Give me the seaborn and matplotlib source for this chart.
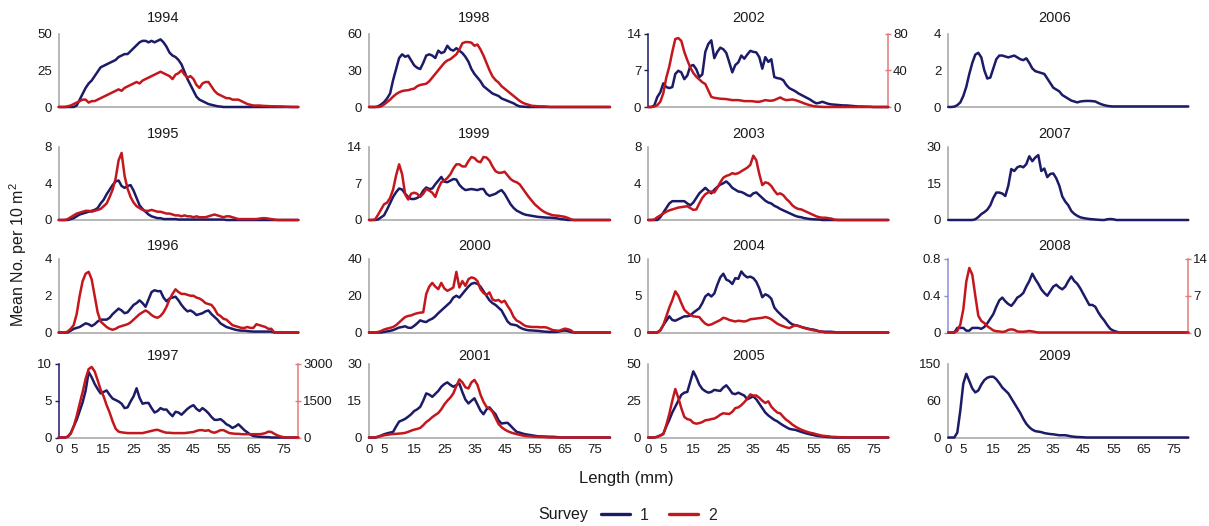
import matplotlib
matplotlib.use("Agg")
import matplotlib.pyplot as plt
import matplotlib.transforms as mtransforms
from matplotlib.lines import Line2D
import seaborn as sns

# ---------------- data ----------------
lengths = list(range(0, 81))  # mm

s1_1994 = [0, 0, 0, 0, 0, 0, 1, 5, 9, 13,
           16, 18, 21, 24, 27, 28, 29, 30, 31, 32,
           34, 35, 36, 36, 38, 40, 42, 44, 45, 45,
           44, 45, 44, 45, 46, 44, 41, 37, 35, 34,
           32, 29, 24, 19, 15, 11, 7, 5, 4, 3,
           2, 1.5, 1, 0.5, 0.3, 0, 0, 0, 0, 0,
           0, 0, 0, 0, 0, 0, 0, 0, 0, 0,
           0, 0, 0, 0, 0, 0, 0, 0, 0, 0,
           0]
s2_1994 = [0, 0, 0, 0.5, 1, 2, 3, 4, 5, 5,
           3, 4, 4, 5, 6, 7, 8, 9, 10, 11,
           12, 11, 13, 14, 15, 16, 17, 16, 18, 19,
           20, 21, 22, 23, 24, 23, 22, 21, 19, 22,
           23, 25, 22, 20, 21, 19, 15, 13, 16, 17,
           17, 14, 11, 9, 8, 7, 6, 6, 5, 5,
           5, 4, 3, 2, 1.5, 1, 1, 1, 0.8, 0.7,
           0.6, 0.5, 0.5, 0.4, 0.4, 0.3, 0.2, 0.1, 0, 0,
           0]
s1_1995 = [0, 0, 0, 0, 0.1, 0.2, 0.4, 0.6, 0.7, 0.8,
           0.9, 1.0, 1.1, 1.3, 1.8, 2.2, 2.8, 3.3, 3.8, 4.2,
           4.3, 3.7, 3.5, 3.7, 3.8, 3.2, 2.4, 1.6, 1.2, 0.9,
           0.6, 0.4, 0.3, 0.2, 0.2, 0.1, 0.1, 0.1, 0.1, 0.1,
           0.05, 0.05, 0.05, 0.05, 0.05, 0.05, 0.05, 0.05, 0.05, 0.05,
           0.05, 0.05, 0.05, 0.05, 0.05, 0.05, 0, 0, 0, 0,
           0, 0, 0, 0, 0, 0, 0, 0, 0, 0,
           0, 0, 0, 0, 0, 0, 0, 0, 0, 0,
           0]
s2_1995 = [0, 0, 0, 0.1, 0.3, 0.5, 0.7, 0.8, 0.9, 1.0,
           1.0, 0.9, 1.0, 1.1, 1.2, 1.5, 1.8, 2.5, 3.3, 4.5,
           6.5, 7.3, 4.8, 3.4, 2.5, 1.9, 1.5, 1.3, 1.1, 1.0,
           1.0, 1.1, 1.0, 0.9, 0.9, 0.8, 0.7, 0.7, 0.6, 0.5,
           0.5, 0.4, 0.5, 0.4, 0.4, 0.3, 0.4, 0.3, 0.3, 0.3,
           0.4, 0.5, 0.6, 0.5, 0.4, 0.3, 0.4, 0.4, 0.3, 0.2,
           0.1, 0.1, 0.1, 0.1, 0.1, 0.1, 0.1, 0.15, 0.2, 0.2,
           0.15, 0.1, 0.05, 0, 0, 0, 0, 0, 0, 0,
           0]
s1_1996 = [0, 0, 0, 0, 0.1, 0.2, 0.25, 0.3, 0.4, 0.5,
           0.45, 0.35, 0.45, 0.6, 0.7, 0.7, 0.7, 0.8, 1.0, 1.15,
           1.3, 1.2, 1.05, 1.1, 1.3, 1.5, 1.6, 1.75, 1.6, 1.4,
           1.8, 2.2, 2.3, 2.25, 2.25, 1.9, 1.7, 1.85, 1.9, 1.95,
           1.75, 1.5, 1.3, 1.15, 1.2, 1.1, 0.95, 1.0, 1.05, 1.15,
           1.2, 1.0, 0.85, 0.7, 0.5, 0.4, 0.3, 0.25, 0.2, 0.15,
           0.12, 0.1, 0.1, 0.08, 0.06, 0.05, 0.05, 0.05, 0.05, 0.05,
           0.05, 0.05, 0, 0, 0, 0, 0, 0, 0, 0,
           0]
s2_1996 = [0, 0, 0, 0.05, 0.2, 0.4, 1.0, 2.0, 2.8, 3.2,
           3.3, 2.9, 2.0, 1.1, 0.6, 0.45, 0.3, 0.2, 0.15, 0.2,
           0.3, 0.35, 0.4, 0.45, 0.55, 0.7, 0.85, 1.0, 1.1, 1.2,
           1.1, 0.95, 0.85, 0.8, 0.9, 1.1, 1.4, 1.8, 2.1, 2.35,
           2.2, 2.1, 2.1, 2.05, 2.0, 2.0, 1.9, 1.85, 1.75, 1.6,
           1.55, 1.5, 1.3, 1.0, 0.9, 0.75, 0.7, 0.55, 0.4, 0.35,
           0.3, 0.25, 0.25, 0.3, 0.25, 0.25, 0.45, 0.4, 0.35, 0.3,
           0.2, 0.2, 0, 0, 0, 0, 0, 0, 0, 0,
           0]
s1_1997 = [0, 0, 0, 0.1, 0.6, 1.5, 2.4, 3.6, 4.8, 6.4,
           8.9, 8.2, 7.3, 6.6, 6.0, 6.2, 6.4, 5.8, 5.3, 5.1,
           4.9, 4.6, 4.0, 4.1, 4.9, 5.6, 6.7, 5.4, 4.6, 4.7,
           4.7, 4.0, 3.4, 3.6, 4.0, 3.8, 3.8, 3.3, 2.9, 3.5,
           3.4, 3.1, 3.5, 3.9, 4.2, 4.4, 3.9, 3.6, 4.0, 3.7,
           3.3, 2.8, 2.4, 2.4, 2.5, 2.2, 1.8, 1.6, 1.3, 1.5,
           1.8, 1.4, 1.0, 0.7, 0.4, 0.2, 0.15, 0.1, 0.08, 0.05,
           0.05, 0, 0, 0, 0, 0, 0, 0, 0, 0,
           0]
s2_1997 = [0, 0, 0, 30, 150, 450, 870, 1380, 1860, 2400,
           2790, 2880, 2700, 2340, 1950, 1680, 1320, 1020, 660, 360,
           240, 210, 195, 180, 180, 180, 180, 180, 180, 210,
           240, 270, 300, 315, 270, 225, 195, 195, 180, 180,
           180, 180, 180, 195, 210, 225, 270, 300, 300, 270,
           300, 225, 195, 240, 300, 300, 240, 180, 165, 150,
           150, 135, 135, 135, 135, 135, 135, 135, 150, 180,
           240, 225, 150, 90, 45, 15, 0, 0, 0, 0,
           0]
s1_1998 = [0, 0, 0, 0.5, 2, 4, 7, 11, 22, 31,
           40, 43, 41, 42, 38, 34, 32, 31, 36, 42,
           43, 42, 40, 46, 44, 45, 50, 47, 46, 48,
           46, 44, 41, 37, 31, 27, 24, 21, 17, 15,
           13, 11, 10, 9, 7, 6, 5, 4, 3, 1.5,
           0.5, 0.3, 0.1, 0, 0, 0, 0, 0, 0, 0,
           0, 0, 0, 0, 0, 0, 0, 0, 0, 0,
           0, 0, 0, 0, 0, 0, 0, 0, 0, 0,
           0]
s2_1998 = [0, 0, 0, 0, 0.5, 2, 4, 6, 8.5, 10.5,
           12, 13, 13.5, 13.7, 14.5, 15, 17, 18, 18.5, 19,
           21, 24, 27, 30, 33, 36, 38, 39, 41, 43,
           47, 52, 53, 53, 52.5, 50, 51, 47, 42, 36,
           30, 25, 22, 20, 17, 15, 13, 11, 9, 7,
           5, 3.5, 2.5, 1.8, 1, 0.8, 0.6, 0.5, 0.5, 0.3,
           0, 0, 0, 0, 0, 0, 0, 0, 0, 0,
           0, 0, 0, 0, 0, 0, 0, 0, 0, 0,
           0]
s1_1999 = [0, 0, 0, 0.1, 0.5, 0.9, 2, 3.2, 4.4, 5.3,
           6, 5.8, 5, 4.4, 4, 4, 4.2, 4.6, 5.6, 6.2,
           5.9, 6, 6.8, 7.5, 8.2, 7.3, 7.2, 7.5, 7.8, 7.7,
           6.7, 6.1, 5.7, 5.8, 5.9, 5.8, 5.7, 5.9, 5.9, 5,
           4.6, 4.8, 5, 5.4, 5.7, 5, 4, 3, 2.3, 1.8,
           1.5, 1.2, 1.0, 0.9, 0.8, 0.7, 0.6, 0.55, 0.5, 0.45,
           0.45, 0.4, 0.35, 0.25, 0.15, 0.1, 0, 0, 0, 0,
           0, 0, 0, 0, 0, 0, 0, 0, 0, 0,
           0]
s2_1999 = [0, 0, 0.1, 1, 2, 3, 3.3, 4.2, 5.8, 8.5,
           10.6, 8.7, 4.9, 3.9, 5.0, 5.2, 5.0, 4.4, 5.0, 5.9,
           5.6, 5.2, 4.4, 6, 7.2, 7.5, 8, 8.7, 9.8, 10.6,
           10.6, 10.2, 10.2, 11.2, 12, 11.8, 11.2, 11, 12, 11.9,
           11.3, 10.2, 9.3, 9, 9, 9.2, 8.5, 7.8, 7.4, 7.2,
           6.8, 6, 5.2, 4.4, 3.7, 3.0, 2.5, 2.0, 1.6, 1.3,
           1.1, 0.9, 0.85, 0.8, 0.7, 0.6, 0.4, 0.15, 0, 0,
           0, 0, 0, 0, 0, 0, 0, 0, 0, 0,
           0]
s1_2000 = [0, 0, 0, 0, 0, 0.3, 0.6, 0.9, 1.3, 2,
           2.7, 3, 3.4, 2.6, 2.5, 3.6, 5, 6.6, 6, 5.7,
           6.8, 7.5, 8.8, 10.5, 12, 13.5, 15, 16.5, 19, 20,
           19, 21, 23, 25, 26.5, 27, 26.5, 25, 22.5, 20,
           17.5, 16, 15, 13.5, 12, 9, 6, 4.5, 4.2, 3.9,
           2.8, 2, 1.5, 1.2, 1.1, 1, 0.9, 0.7, 0.5, 0.4,
           0.3, 0.3, 0.3, 0.5, 0.9, 1.1, 0.8, 0.3, 0, 0,
           0, 0, 0, 0, 0, 0, 0, 0, 0, 0,
           0]
s2_2000 = [0, 0, 0, 0.3, 0.8, 1.6, 2.1, 2.5, 3, 4,
           5.5, 7, 8.4, 9, 9.3, 10, 10.5, 10.8, 11, 21,
           25, 27, 25, 23.6, 27, 24, 22.7, 23.5, 24.5, 33,
           24.5, 28, 25.4, 29, 30, 29.5, 28, 23.6, 21.5, 20.5,
           21.8, 18, 17.3, 17.7, 16.4, 17.3, 14.5, 12, 8.5, 6.5,
           5.7, 4.5, 3.5, 3.2, 3, 3, 3, 2.8, 2.9, 2.7,
           2, 1.3, 1.1, 0.9, 1.5, 2.1, 1.8, 1.2, 0, 0,
           0, 0, 0, 0, 0, 0, 0, 0, 0, 0,
           0]
s1_2001 = [0, 0, 0, 0.3, 0.8, 1.3, 1.7, 2, 2.3, 4.5,
           6.5, 7, 7.6, 8.5, 9.5, 10.8, 11.5, 12.5, 15, 18,
           17.5, 16.6, 17.8, 19, 20.7, 21.8, 22.5, 21.5, 20.7, 21.4,
           22, 18.5, 15.5, 13.9, 15, 16, 13.5, 11, 9.5, 11.5,
           12.3, 10.8, 9.5, 7, 5.7, 5.9, 6, 4.8, 3.5, 2.3,
           2, 1.6, 1.3, 1.1, 0.9, 0.7, 0.5, 0.45, 0.4, 0.35,
           0.3, 0.3, 0.2, 0.1, 0, 0, 0, 0, 0, 0,
           0, 0, 0, 0, 0, 0, 0, 0, 0, 0,
           0]
s2_2001 = [0, 0, 0, 0.3, 0.6, 0.9, 1.1, 1.3, 1.4, 1.5,
           1.6, 1.7, 1.9, 2.3, 2.8, 3.2, 3.5, 3.9, 5, 6.3,
           7.2, 8.3, 9.2, 10, 11.5, 13.5, 15, 16.3, 18, 21,
           23.7, 22.5, 20.5, 20, 22.5, 23.5, 21.5, 17.5, 14.6, 12.5,
           11.8, 10.5, 8, 5.5, 4.2, 3.3, 2.6, 2.1, 1.7, 1.4,
           1.1, 0.8, 0.6, 0.5, 0.4, 0.3, 0.25, 0.2, 0.2, 0.1,
           0, 0, 0, 0, 0, 0, 0, 0, 0, 0,
           0, 0, 0, 0, 0, 0, 0, 0, 0, 0,
           0]
s1_2002 = [0, 0, 0.3, 1.9, 2.8, 4.5, 3.8, 3.6, 3.8, 6.3,
           6.9, 6.6, 5.3, 6, 7.8, 8.0, 7.2, 5.7, 6.2, 10.5,
           12, 12.7, 9.3, 10.5, 11.3, 11, 10.3, 8.5, 6.6, 8,
           8.5, 9.8, 9.2, 10, 10.7, 10.5, 10.4, 9.5, 7.3, 9.5,
           8.6, 9.1, 5.7, 5.5, 5.4, 5.1, 4.2, 3.6, 3.3, 3.0,
           2.6, 2.3, 2.0, 1.7, 1.4, 1.0, 0.7, 0.8, 1.0, 0.8,
           0.6, 0.5, 0.45, 0.4, 0.35, 0.3, 0.3, 0.25, 0.2, 0.15,
           0.1, 0.1, 0.08, 0.06, 0.05, 0, 0, 0, 0, 0,
           0]
s2_2002 = [0, 0, 0.5, 2, 5.7, 15, 32, 44, 60, 74,
           75, 72, 60, 51, 43, 37, 33, 30, 27, 25,
           18, 11, 10, 9.5, 9, 8.8, 8.6, 8, 7.5, 7.5,
           7.5, 7, 6.4, 6.4, 6.4, 6.2, 5.7, 5.7, 6.5, 7.5,
           7, 6.8, 7.5, 9, 10.4, 8.5, 7.5, 7.8, 8.2, 7.5,
           6.4, 5.2, 3.9, 2.8, 1.8, 1, 0.6, 0.3, 0.1, 0,
           0, 0, 0, 0, 0, 0, 0, 0, 0, 0,
           0, 0, 0, 0, 0, 0, 0, 0, 0, 0,
           0]
s1_2003 = [0, 0, 0, 0, 0.3, 0.8, 1.3, 1.8, 2.05, 2.05,
           2.05, 2.05, 2.05, 1.8, 1.6, 1.9, 2.4, 2.9, 3.2, 3.5,
           3.2, 2.9, 3.3, 3.6, 3.85, 4.0, 4.2, 3.9, 3.5, 3.3,
           3.1, 3.05, 2.9, 2.7, 2.6, 2.9, 3.0, 2.7, 2.4, 2.1,
           1.9, 1.8, 1.55, 1.4, 1.2, 1.05, 0.9, 0.75, 0.6, 0.45,
           0.35, 0.3, 0.2, 0.15, 0.1, 0.08, 0.06, 0.05, 0, 0,
           0, 0, 0, 0, 0, 0, 0, 0, 0, 0,
           0, 0, 0, 0, 0, 0, 0, 0, 0, 0,
           0]
s2_2003 = [0, 0, 0.05, 0.3, 0.5, 0.7, 0.9, 1.05, 1.15, 1.25,
           1.35, 1.4, 1.45, 1.5, 1.3, 1.1, 1.15, 1.8, 2.4, 2.8,
           3.0, 3.1, 3.0, 3.5, 4.1, 4.6, 4.8, 4.9, 5.1, 5.0,
           5.1, 5.3, 5.5, 5.7, 6.0, 7.0, 6.5, 5.0, 3.8, 4.1,
           4.0, 3.7, 3.2, 2.8, 2.9, 2.7, 2.3, 2.0, 1.6, 1.35,
           1.2, 1.15, 1.0, 0.85, 0.7, 0.55, 0.4, 0.3, 0.25, 0.25,
           0.2, 0.15, 0.05, 0, 0, 0, 0, 0, 0, 0,
           0, 0, 0, 0, 0, 0, 0, 0, 0, 0,
           0]
s1_2004 = [0, 0, 0, 0, 0.3, 1, 1.6, 2.2, 1.7, 1.6,
           1.8, 2.0, 2.2, 2.2, 2.3, 2.7, 3.0, 3.3, 4, 4.9,
           5.25, 4.9, 5.3, 6.5, 7.5, 8.0, 7.2, 7.0, 6.6, 7.4,
           7.3, 8.3, 7.8, 7.5, 7.6, 7.4, 6.9, 6.0, 4.8, 5.2,
           5.0, 4.6, 3.4, 2.9, 2.5, 2.1, 1.8, 1.4, 1.1, 1.0,
           0.9, 0.75, 0.65, 0.55, 0.45, 0.4, 0.3, 0.15, 0.12, 0.1,
           0.1, 0.1, 0.05, 0, 0, 0, 0, 0, 0, 0,
           0, 0, 0, 0, 0, 0, 0, 0, 0, 0,
           0]
s2_2004 = [0, 0, 0, 0, 0.3, 1.0, 2.2, 3.4, 4.4, 5.6,
           5.0, 4.0, 3.1, 2.7, 2.4, 2.2, 2.15, 2.1, 1.6, 1.2,
           1.0, 1.1, 1.3, 1.5, 1.7, 2.0, 1.9, 1.7, 1.6, 1.5,
           1.6, 1.55, 1.5, 1.6, 1.8, 1.85, 1.9, 1.95, 2.0, 2.1,
           2.0, 1.8, 1.5, 1.2, 1.0, 0.85, 0.7, 0.6, 0.8, 1.0,
           0.9, 0.75, 0.6, 0.5, 0.4, 0.3, 0.25, 0.15, 0.1, 0,
           0, 0, 0, 0, 0, 0, 0, 0, 0, 0,
           0, 0, 0, 0, 0, 0, 0, 0, 0, 0,
           0]
s1_2005 = [0, 0, 0, 0.5, 1.5, 2.5, 7.5, 12, 17, 21,
           25, 29, 30.5, 31, 38, 45, 41, 36, 33, 31.5,
           30.5, 31, 32.4, 32, 31.7, 34, 35.5, 33, 30, 29.5,
           30.5, 29.5, 28.5, 26, 27, 28, 26, 23, 20, 17,
           15, 13.5, 12, 11, 9.5, 8.2, 7, 5.9, 5.5, 5.2,
           4.5, 3.8, 3.2, 2.6, 2.1, 1.7, 1.2, 0.9, 0.7, 0.5,
           0.3, 0.15, 0, 0, 0, 0, 0, 0, 0, 0,
           0, 0, 0, 0, 0, 0, 0, 0, 0, 0,
           0]
s2_2005 = [0, 0, 0, 0.5, 1.2, 2.3, 8.5, 16, 25, 33,
           27, 20, 14, 12.5, 12, 10, 9.4, 9.8, 10.5, 11.7,
           12, 12.5, 12.9, 14, 15.5, 16.5, 16.2, 16, 17.5, 20,
           20.5, 22, 24, 26.5, 29.3, 28.5, 28.6, 27, 25, 23.5,
           24.6, 21, 18.8, 17, 16.4, 14, 12, 10.6, 8.8, 7.5,
           6.3, 5.3, 4.5, 3.8, 3.2, 2.8, 2.2, 1.7, 1.2, 1.0,
           0.8, 0.5, 0.4, 0.3, 0.2, 0.15, 0.1, 0, 0, 0,
           0, 0, 0, 0, 0, 0, 0, 0, 0, 0,
           0]
s1_2006 = [0, 0, 0.02, 0.1, 0.25, 0.6, 1.1, 1.8, 2.4, 2.85,
           2.95, 2.7, 2.0, 1.55, 1.6, 2.1, 2.6, 2.8, 2.8, 2.75,
           2.7, 2.75, 2.8, 2.7, 2.6, 2.55, 2.65, 2.4, 2.1, 1.95,
           1.9, 1.85, 1.8, 1.55, 1.3, 1.05, 0.95, 0.85, 0.65, 0.55,
           0.45, 0.35, 0.3, 0.25, 0.3, 0.32, 0.33, 0.33, 0.32, 0.3,
           0.22, 0.15, 0.1, 0.06, 0.04, 0.03, 0.03, 0.03, 0.03, 0.03,
           0.03, 0.03, 0.03, 0.03, 0.03, 0.03, 0.03, 0.03, 0.03, 0.03,
           0.03, 0.03, 0.03, 0.03, 0.03, 0.03, 0.03, 0.03, 0.03, 0.03,
           0.03]
s1_2007 = [0, 0, 0, 0, 0, 0, 0, 0, 0, 0.3,
           1.2, 2.4, 3.2, 4.2, 6, 9, 11.2, 11.2, 10.8, 9.8,
           14, 20.8, 20, 21.5, 22, 21.5, 22.8, 26, 24, 25.5,
           26.5, 20, 21, 17.5, 18.8, 19, 17, 14, 9.6, 7.5,
           6, 3.7, 2.5, 1.7, 1.1, 0.8, 0.6, 0.4, 0.3, 0.2,
           0.1, 0, 0, 0.3, 0.4, 0.3, 0, 0, 0, 0,
           0, 0, 0, 0, 0, 0, 0, 0, 0, 0,
           0, 0, 0, 0, 0, 0, 0, 0, 0, 0,
           0]
s1_2008 = [0, 0, 0, 0.05, 0.05, 0.05, 0.02, 0.02, 0.05, 0.05,
           0.05, 0.04, 0.06, 0.1, 0.15, 0.2, 0.28, 0.35, 0.38, 0.34,
           0.31, 0.29, 0.33, 0.38, 0.4, 0.43, 0.5, 0.56, 0.64, 0.58,
           0.53, 0.47, 0.43, 0.4, 0.45, 0.5, 0.52, 0.49, 0.47, 0.5,
           0.56, 0.61, 0.56, 0.53, 0.48, 0.42, 0.36, 0.3, 0.3, 0.28,
           0.22, 0.17, 0.13, 0.08, 0.04, 0.02, 0.01, 0, 0, 0,
           0, 0, 0, 0, 0, 0, 0, 0, 0, 0,
           0, 0, 0, 0, 0, 0, 0, 0, 0, 0,
           0]
s2_2008 = [0, 0, 0, 0.3, 1.5, 4.4, 9.7, 12.3, 11, 7,
           3.2, 2.2, 1.8, 1.2, 0.8, 0.4, 0.25, 0.2, 0.1, 0.2,
           0.5, 0.6, 0.5, 0.2, 0.15, 0.15, 0.2, 0.3, 0.2, 0.1,
           0, 0, 0, 0, 0, 0, 0, 0, 0, 0,
           0, 0, 0, 0, 0, 0, 0, 0, 0, 0,
           0, 0, 0, 0, 0, 0, 0, 0, 0, 0,
           0, 0, 0, 0, 0, 0, 0, 0, 0, 0,
           0, 0, 0, 0, 0, 0, 0, 0, 0, 0,
           0]
s1_2009 = [0, 0, 0, 10, 55, 110, 130, 115, 100, 92,
           96, 108, 117, 122, 124, 124, 119, 111, 102, 96,
           90, 80, 70, 60, 50, 38, 28, 21, 16, 13,
           12, 11, 9, 8, 7, 6.5, 5.5, 4.6, 4.6, 4.6,
           3.5, 2.2, 1.5, 1, 0.7, 0.5, 0, 0, 0, 0,
           0, 0, 0, 0, 0, 0, 0, 0, 0, 0,
           0, 0, 0, 0, 0, 0, 0, 0, 0, 0,
           0, 0, 0, 0, 0, 0, 0, 0, 0, 0,
           0]

years = [1994, 1995, 1996, 1997, 1998, 1999, 2000, 2001,
         2002, 2003, 2004, 2005, 2006, 2007, 2008, 2009]
survey1 = {1994: s1_1994, 1995: s1_1995, 1996: s1_1996, 1997: s1_1997,
           1998: s1_1998, 1999: s1_1999, 2000: s1_2000, 2001: s1_2001,
           2002: s1_2002, 2003: s1_2003, 2004: s1_2004, 2005: s1_2005,
           2006: s1_2006, 2007: s1_2007, 2008: s1_2008, 2009: s1_2009}
survey2 = {1994: s2_1994, 1995: s2_1995, 1996: s2_1996, 1997: s2_1997,
           1998: s2_1998, 1999: s2_1999, 2000: s2_2000, 2001: s2_2001,
           2002: s2_2002, 2003: s2_2003, 2004: s2_2004, 2005: s2_2005,
           2008: s2_2008}
left_ticks = {1994: [0, 25, 50], 1995: [0, 4, 8], 1996: [0, 2, 4], 1997: [0, 5, 10],
              1998: [0, 30, 60], 1999: [0, 7, 14], 2000: [0, 20, 40], 2001: [0, 15, 30],
              2002: [0, 7, 14], 2003: [0, 4, 8], 2004: [0, 5, 10], 2005: [0, 25, 50],
              2006: [0, 2, 4], 2007: [0, 15, 30], 2008: [0, 0.4, 0.8], 2009: [0, 75, 150]}
left_labels = {2008: ["0", "0.4", "0.8"], 2009: ["0", "60", "150"]}
right_ticks = {1997: [0, 1500, 3000], 2002: [0, 40, 80], 2008: [0, 7, 14]}
x_ticks = list(range(0, 81, 5))
x_labels = ["0", "5", "", "15", "", "25", "", "35", "", "45", "", "55", "", "65", "", "75", ""]

for y in years:
    assert len(survey1[y]) == 81, (y, 1, len(survey1[y]))
    if y in survey2:
        assert len(survey2[y]) == 81, (y, 2, len(survey2[y]))

# ---------------- style ----------------
sns.set_style("white")
plt.rcParams["font.family"] = ["Liberation Sans", "DejaVu Sans"]
plt.rcParams["mathtext.fontset"] = "custom"
plt.rcParams["mathtext.rm"] = "Liberation Sans"
plt.rcParams["mathtext.it"] = "Liberation Sans"

NAVY = "#1c1b68"
RED = "#c4171d"
SPINE = "#a3a3a3"
TXT = "#1a1a1a"
LEFT_SPINE = {1997: NAVY, 2002: NAVY, 2008: "#8e8ed8"}
RIGHT_SPINE = "#e47a7c"
LW = 1.8

W, H = 1209, 526
fig = plt.figure(figsize=(W / 100, H / 100), dpi=100)
col_x0 = [58.7, 369.0, 648.3, 948.3]
col_w = [239.6, 241.0, 240.0, 240.0]
row_y0 = [107.0, 220.0, 332.5, 437.5]
row_h = 73.5
title_off = [16, 12, 12.5, 8.5]
title_x = [35, 35, 33.5, 35.5]

for i, year in enumerate(years):
    col, row = i // 4, i % 4
    ax = fig.add_axes([col_x0[col] / W, 1 - row_y0[row] / H, col_w[col] / W, row_h / H])
    sns.lineplot(x=lengths, y=survey1[year], ax=ax, color=NAVY, linewidth=LW,
                 zorder=3, clip_on=False, legend=False)
    ax2 = None
    if year in survey2:
        if year in right_ticks:
            ax2 = ax.twinx()
            sns.lineplot(x=lengths, y=survey2[year], ax=ax2, color=RED, linewidth=LW,
                         zorder=3, clip_on=False, legend=False)
        else:
            sns.lineplot(x=lengths, y=survey2[year], ax=ax, color=RED, linewidth=LW,
                         zorder=4, clip_on=False, legend=False)
    lt = left_ticks[year]
    ax.set_xlim(0, 80)
    ax.set_ylim(0, lt[-1])
    ax.set_yticks(lt)
    ax.set_yticklabels(left_labels.get(year, [str(v) for v in lt]))
    ax.set_xticks(x_ticks)
    ax.set_xticklabels(x_labels)
    ax.set_xlabel("")
    ax.set_ylabel("")
    for s in ("top", "right"):
        ax.spines[s].set_visible(False)
    ax.spines["bottom"].set_color(SPINE)
    ax.spines["left"].set_color(LEFT_SPINE.get(year, SPINE))
    for s in ("bottom", "left"):
        ax.spines[s].set_linewidth(1.1)
    ax.tick_params(axis="x", direction="out", length=3.5, width=1, color=SPINE,
                   labelsize=9.5, labelcolor=TXT, pad=1.5, labelbottom=(row == 3))
    ax.tick_params(axis="y", direction="out", length=3, width=1,
                   color=LEFT_SPINE.get(year, SPINE), labelsize=9.5, labelcolor=TXT, pad=2)
    if ax2 is not None:
        rt = right_ticks[year]
        ax2.set_xlim(0, 80)
        ax2.set_ylim(0, rt[-1])
        ax2.set_yticks(rt)
        ax2.set_yticklabels([str(v) for v in rt])
        ax2.set_ylabel("")
        for s in ("top", "left", "bottom"):
            ax2.spines[s].set_visible(False)
        ax2.spines["right"].set_color(RIGHT_SPINE)
        ax2.spines["right"].set_linewidth(1.1)
        ax2.tick_params(axis="y", direction="inout", length=5, width=1, color=RIGHT_SPINE,
                        labelsize=9.5, labelcolor=TXT, pad=1)
    trans = mtransforms.blended_transform_factory(ax.transData, ax.transAxes)
    ax.text(title_x[col], 1 + title_off[row] / row_h, str(year), transform=trans,
            ha="center", va="center", fontsize=10.5, color=TXT)

fig.text(18 / W, 1 - 255 / H, "Mean No. per 10 m$^2$", rotation=90, ha="center",
         va="center", fontsize=11.5, color=TXT)
fig.text(626 / W, 1 - 478 / H, "Length (mm)", ha="center", va="center",
         fontsize=12, color=TXT)
fig.text(563 / W, 1 - 515 / H, "Survey", ha="center", va="center", fontsize=11.5, color=TXT)
handles = [Line2D([], [], color=NAVY, lw=2.4), Line2D([], [], color=RED, lw=2.4)]
fig.legend(handles, ["1", "2"], loc="center", bbox_to_anchor=(659 / W, 1 - 515 / H),
           ncol=2, frameon=False, fontsize=11.5, handlelength=1.8, handletextpad=0.6,
           columnspacing=1.3, borderpad=0, borderaxespad=0)

fig.savefig("out.png", dpi=100)
